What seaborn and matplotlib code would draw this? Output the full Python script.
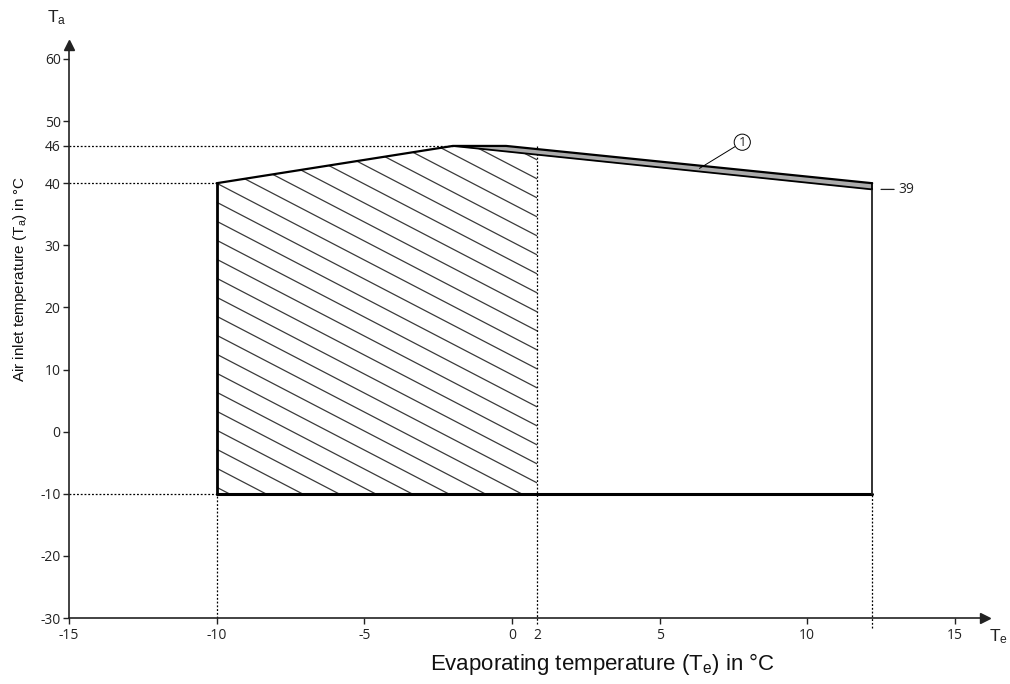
import numpy as np
import pandas as pd
import matplotlib
matplotlib.use("Agg")
import matplotlib.pyplot as plt
from matplotlib.patches import Polygon
import seaborn as sns

# ---- data ----
upper_x = [-10, -2, -0.2, 12.2]          # upper envelope (top of band)
upper_y = [40, 46, 46, 40]
band_low_x = [-2, 12.2]                  # lower edge of the grey band
band_low_y = [46, 39]
te_min, te_max = -10, 12.2
ta_min = -10
te_split = 0.85                          # boundary labelled "2"
x_ticks = [-15, -10, -5, 0, 5, 10, 15]
y_ticks = [-30, -20, -10, 0, 10, 20, 30, 40, 46, 50, 60]

sns.set_theme(style="white")
plt.rcParams["font.family"] = ["Open Sans", "DejaVu Sans"]
plt.rcParams["axes.unicode_minus"] = False
plt.rcParams["mathtext.fontset"] = "custom"
plt.rcParams["mathtext.rm"] = "Liberation Sans"
plt.rcParams["mathtext.it"] = "Liberation Sans"
plt.rcParams["mathtext.default"] = "rm"

fig = plt.figure(figsize=(10.10, 6.84), dpi=100)
ax = fig.add_axes([69 / 1010, 66 / 684, (985 - 69) / 1010, (618 - 45) / 684])
ax.set_xlim(-15, 16.02)
ax.set_ylim(-30, 62.25)

def y_low(x):
    return np.interp(x, band_low_x, band_low_y)

# hatched region polygon
hatch_poly = np.array([[te_min, ta_min], [te_min, upper_y[0]], [upper_x[1], upper_y[1]],
                       [te_split, y_low(te_split)], [te_split, ta_min]])
clip = Polygon(hatch_poly, closed=True, fc="none", ec="none", transform=ax.transData)
ax.add_patch(clip)
k = 0.52 * (29.533 / 6.211)
step = 19 / 6.211
for c in np.arange(upper_y[0] + 40 * step, ta_min - step, -step):
    xs = np.array([te_min, te_split])
    ln, = ax.plot(xs, c - k * (xs - te_min), color="#3a3a3a", lw=0.9, zorder=2)
    ln.set_clip_path(clip)

# grey band
bx = np.linspace(-2, 12.2, 200)
ax.fill_between(bx, np.interp(bx, upper_x, upper_y), y_low(bx), color="#ababab", lw=0, zorder=3)

# outline
df_top = pd.DataFrame({"x": upper_x, "y": upper_y})
sns.lineplot(data=df_top, x="x", y="y", sort=False, color="black", lw=1.6, ax=ax, zorder=4)
sns.lineplot(data=pd.DataFrame({"x": band_low_x, "y": band_low_y}), x="x", y="y",
             sort=False, color="black", lw=1.3, ax=ax, zorder=4)
ax.plot([te_min, te_min], [ta_min, upper_y[0]], color="black", lw=2.0, zorder=4)
ax.plot([te_min, te_max], [ta_min, ta_min], color="black", lw=2.2, zorder=4)
ax.plot([te_max, te_max], [ta_min, band_low_y[-1]], color="#222222", lw=1.3, zorder=4)
ax.plot([te_max, te_max], [band_low_y[-1], upper_y[-1]], color="black", lw=1.3, zorder=4)

# dotted guide lines
dot = dict(color="black", lw=0.9, ls=(0, (1.5, 1.5)), zorder=1, clip_on=False)
ax.plot([-15, upper_x[1]], [46, 46], **dot)
ax.plot([-15, te_min], [40, 40], **dot)
ax.plot([-15, te_min], [ta_min, ta_min], **dot)
ax.plot([te_min, te_min], [-30, ta_min], **dot)
ax.plot([te_split, te_split], [-31.0, 46], **dot)
ax.plot([te_max, te_max], [-31.6, ta_min], **dot)

# annotations
ax.annotate("1", xy=(6.35, y_low(6.35) + 0.5), xytext=(7.8, 46.6),
            ha="center", va="center", fontsize=9.5,
            bbox=dict(boxstyle="circle,pad=0.12", fc="white", ec="black", lw=0.7),
            arrowprops=dict(arrowstyle="-", color="black", lw=0.7, shrinkA=0, shrinkB=0), zorder=5)
ax.annotate("39", xy=(12.5, 39), xytext=(13.1, 39), ha="left", va="center", fontsize=10,
            color="#222222",
            arrowprops=dict(arrowstyle="-", color="#222222", lw=0.9, shrinkA=1, shrinkB=0))

# axes / ticks
sns.despine(ax=ax, top=True, right=True)
for s in ("left", "bottom"):
    ax.spines[s].set_color("#222222")
    ax.spines[s].set_linewidth(1.2)
ax.set_xticks(x_ticks)
ax.set_xticklabels([str(t) for t in x_ticks])
ax.set_xticks([te_split], minor=True)
ax.set_xticklabels(["2"], minor=True)
ax.set_yticks(y_ticks)
ax.set_yticklabels([str(t) for t in y_ticks])
ax.tick_params(axis="both", which="major", direction="out", length=4, width=1, color="#222222",
               labelsize=10, labelcolor="#222222", pad=2, bottom=True, left=True)
ax.tick_params(axis="x", which="major", pad=3)
ax.tick_params(axis="x", which="minor", length=0, labelsize=10, labelcolor="#222222", pad=7)
ax.set_xlabel("")
ax.set_ylabel("")
ax.grid(False)

# arrow heads
ax.plot(0, 1, marker="^", ms=7, color="#222222", transform=ax.transAxes, clip_on=False)
ax.plot(1, 0, marker=">", ms=7, color="#222222", transform=ax.transAxes, clip_on=False)

# axis letters and titles
fig.text(57 / 1010, 1 - 18 / 684, "T$_a$", fontsize=12.5, ha="center", va="center",
         family=["Liberation Sans"], color="#222222")
fig.text(998 / 1010, 1 - 637 / 684, "T$_e$", fontsize=12.5, ha="center", va="center",
         family=["Liberation Sans"], color="#222222")
fig.text(602 / 1010, 1 - 664 / 684, "Evaporating temperature (T$_e$) in °C", fontsize=16,
         ha="center", va="center", family=["Liberation Sans"], color="#111111")
fig.text(20 / 1010, 1 - 279 / 684, "Air inlet temperature (T$_a$) in °C", fontsize=11,
         ha="center", va="center", rotation=90, family=["Liberation Sans"], color="#111111")

fig.savefig("out.png", dpi=100, facecolor="white")
